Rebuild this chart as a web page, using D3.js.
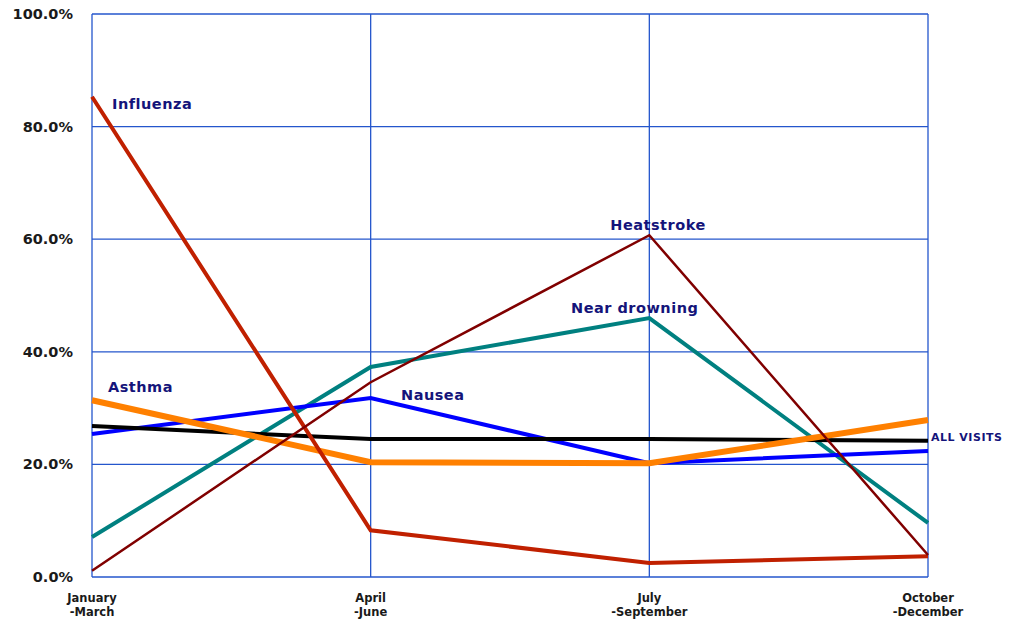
<!DOCTYPE html>
<html>
<head>
<meta charset="utf-8">
<script src="https://cdn.jsdelivr.net/npm/d3@7"></script>
<style>
  body { margin: 0; background: #fff; }
  svg { display: block; }
  text { font-family: "DejaVu Sans", Verdana, sans-serif; font-weight: bold; }
</style>
</head>
<body>
<svg id="chart" width="1018" height="620"></svg>
<script>
// Quarterly share of visits (%) for each condition
const quarters = ["January\n-March", "April\n-June", "July\n-September", "October\n-December"];
const yTicks = [0, 20, 40, 60, 80, 100];

const influenza    = [85.3, 8.3, 2.5, 3.7];
const heatstroke   = [1.1, 34.6, 60.7, 3.9];
const nearDrowning = [7.1, 37.3, 46.0, 9.6];
const nausea       = [25.4, 31.8, 20.2, 22.4];
const asthma       = [31.4, 20.4, 20.2, 27.9];
const allVisits    = [26.8, 24.5, 24.5, 24.2];

const series = [
  { name: "Near drowning", values: nearDrowning, color: "#008080", width: 4 },
  { name: "Nausea",        values: nausea,       color: "#0000ff", width: 4 },
  { name: "ALL VISITS",    values: allVisits,    color: "#000000", width: 4 },
  { name: "Asthma",        values: asthma,       color: "#ff8000", width: 6 },
  { name: "Influenza",     values: influenza,    color: "#c02000", width: 4 },
  { name: "Heatstroke",    values: heatstroke,   color: "#800000", width: 2.5 }
];

const svg = d3.select("#chart");
const plot = { left: 92, right: 928, top: 14, bottom: 577 };

const x = d3.scalePoint().domain(d3.range(quarters.length)).range([plot.left, plot.right]);
const y = d3.scaleLinear().domain([0, 100]).range([plot.bottom, plot.top]);

const gridColor = "#2456cc";

// horizontal grid
svg.append("g").selectAll("line").data(yTicks).join("line")
  .attr("x1", plot.left).attr("x2", plot.right)
  .attr("y1", d => y(d)).attr("y2", d => y(d))
  .attr("stroke", gridColor).attr("stroke-width", 1.3);

// vertical grid / plot frame
svg.append("g").selectAll("line").data(d3.range(quarters.length)).join("line")
  .attr("x1", d => x(d)).attr("x2", d => x(d))
  .attr("y1", plot.top).attr("y2", plot.bottom)
  .attr("stroke", gridColor).attr("stroke-width", 1.3);

// y tick labels
svg.append("g").selectAll("text").data(yTicks).join("text")
  .attr("x", 73).attr("y", d => y(d) + 5)
  .attr("text-anchor", "end")
  .attr("font-size", 14.5).attr("fill", "#1a1a1a")
  .text(d => d.toFixed(1) + "%");

// x tick labels (two lines)
const xl = svg.append("g").selectAll("text").data(quarters).join("text")
  .attr("x", (d, i) => x(i))
  .attr("text-anchor", "middle")
  .attr("font-size", 11.5).attr("fill", "#1a1a1a");
xl.each(function(d, i) {
  const parts = d.split("\n");
  d3.select(this).selectAll("tspan").data(parts).join("tspan")
    .attr("x", x(i))
    .attr("y", (p, j) => 602 + j * 14)
    .text(p => p);
});

// lines
const line = d3.line().x((d, i) => x(i)).y(d => y(d));
svg.append("g").selectAll("path").data(series).join("path")
  .attr("d", s => line(s.values))
  .attr("fill", "none")
  .attr("stroke", s => s.color)
  .attr("stroke-width", s => s.width)
  .attr("stroke-linejoin", "miter");

// series labels
const labelColor = "#14147a";
const labels = [
  { text: "Influenza",     x: 112, y: 109, anchor: "start",  size: 14.5 },
  { text: "Asthma",        x: 108, y: 392, anchor: "start",  size: 14.5 },
  { text: "Nausea",        x: 401, y: 400, anchor: "start",  size: 14.5 },
  { text: "Heatstroke",    x: 658, y: 230, anchor: "middle", size: 14.5 },
  { text: "Near drowning", x: 571, y: 313, anchor: "start",  size: 14.5 },
  { text: "ALL VISITS",    x: 931, y: 441, anchor: "start",  size: 11 }
];
svg.append("g").selectAll("text").data(labels).join("text")
  .attr("x", d => d.x).attr("y", d => d.y)
  .attr("text-anchor", d => d.anchor)
  .attr("font-size", d => d.size)
  .attr("letter-spacing", 0.5)
  .attr("fill", labelColor)
  .text(d => d.text);
</script>
</body>
</html>
